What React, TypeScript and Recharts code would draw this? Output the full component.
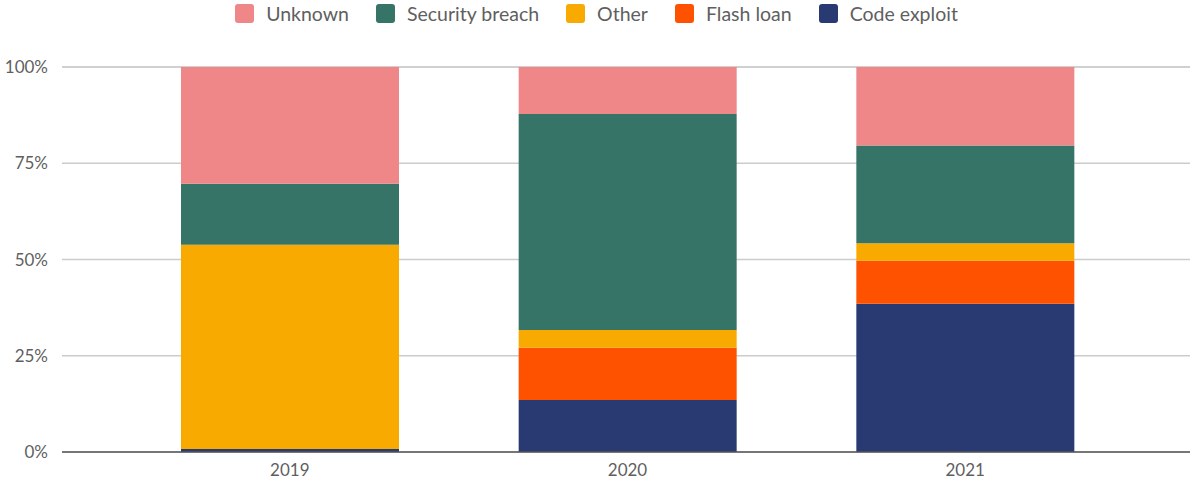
import { BarChart, Bar, XAxis, YAxis, CartesianGrid } from "recharts";

const years = ["2019", "2020", "2021"];
const codeExploit = [0.8, 13.5, 38.5];
const flashLoan = [0, 13.6, 11.2];
const other = [53.0, 4.6, 4.5];
const securityBreach = [15.9, 56.1, 25.4];
const unknown = [30.3, 12.2, 20.4];
const yTicks = [0, 25, 50, 75, 100];

const series = [
  { key: "code", name: "Code exploit", values: codeExploit, color: "#293a73" },
  { key: "flash", name: "Flash loan", values: flashLoan, color: "#fe5200" },
  { key: "other", name: "Other", values: other, color: "#f9aa00" },
  { key: "security", name: "Security breach", values: securityBreach, color: "#377468" },
  { key: "unknown", name: "Unknown", values: unknown, color: "#ef8688" },
];

const data = years.map((year, i) => {
  const row: Record<string, string | number> = { year };
  series.forEach((s) => {
    row[s.key] = s.values[i];
  });
  return row;
});

const font = "Lato, 'Noto Sans', sans-serif";
const textColor = "#5f5f5f";

const App = () => {
  const legendItems = [...series].reverse();
  return (
    <div style={{ position: "absolute", left: 0, top: 0, width: 1191, height: 480, background: "#fff", fontFamily: font }}>
      <div
        style={{
          position: "absolute",
          top: 0,
          left: 0,
          width: 1191,
          height: 27,
          display: "flex",
          justifyContent: "center",
          alignItems: "center",
          gap: 27,
          marginLeft: 1,
        }}
      >
        {legendItems.map((s) => (
          <div key={s.key} style={{ display: "flex", alignItems: "center" }}>
            <span
              style={{
                display: "inline-block",
                width: 19,
                height: 19,
                borderRadius: 3,
                background: s.color,
                marginRight: 12,
              }}
            />
            <span style={{ fontSize: 19.5, color: textColor }}>{s.name}</span>
          </div>
        ))}
      </div>
      <BarChart
        width={1191}
        height={480}
        data={data}
        margin={{ top: 67, right: 1, left: 0, bottom: 0 }}
        barSize={218}
      >
        <CartesianGrid vertical={false} stroke="#cccccc" strokeWidth={1.5} />
        <XAxis
          dataKey="year"
          height={28}
          tickLine={false}
          axisLine={{ stroke: "#555", strokeWidth: 1.5 }}
          padding={{ left: 59, right: 56 }}
          tick={{ fill: textColor, fontSize: 17, fontFamily: font }}
          tickMargin={6}
        />
        <YAxis
          width={62}
          domain={[0, 100]}
          ticks={yTicks}
          tickFormatter={(v: number) => `${v}%`}
          tickLine={false}
          axisLine={false}
          tick={{ fill: textColor, fontSize: 17, fontFamily: font }}
          tickMargin={8}
        />
        {series.map((s) => (
          <Bar key={s.key} dataKey={s.key} name={s.name} stackId="a" fill={s.color} isAnimationActive={false} />
        ))}
      </BarChart>
    </div>
  );
};

export default App;
